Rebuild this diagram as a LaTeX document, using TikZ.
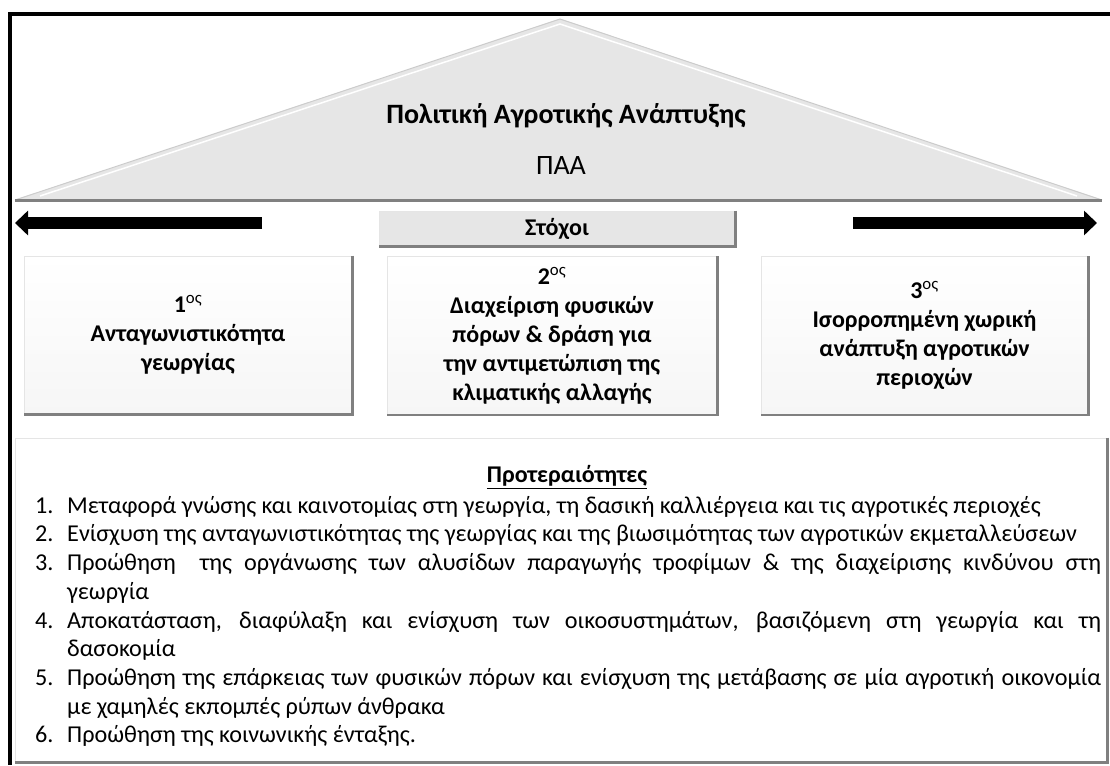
\documentclass[tikz,border=0pt]{standalone}
\usepackage{fontspec}
\setmainfont{Carlito}
\usetikzlibrary{arrows.meta}

\definecolor{roofgray}{HTML}{E6E6E6}
\definecolor{edgegray}{HTML}{808080}

\tikzset{
  bevel/.style={line width=2.5pt, color=edgegray},
  goalbox/.style={draw=gray!20, line width=0.8pt, top color=white,
    bottom color=gray!7, inner sep=0pt, align=center,
    minimum width=328pt, minimum height=158pt,
    font=\fontsize{24}{29}\selectfont\bfseries},
  bigarrow/.style={line width=12pt, -{Triangle[length=13pt,width=24pt]}},
}

\begin{document}
\begin{tikzpicture}[x=1pt,y=-1pt]
  \useasboundingbox (0,0) rectangle (1110,765);
  \newcommand{\ord}[1]{#1\textsuperscript{\mdseries ος}}

  % frame
  \draw[line width=4pt] (1110,14) -- (10,14) -- (10,765);

  % roof
  \coordinate (roofL) at (15,200);
  \coordinate (roofT) at (560,19);
  \coordinate (roofR) at (1102,200);
  \fill[roofgray] (roofL) -- (roofT) -- (roofR) -- cycle;
  \draw[gray!40, line width=1pt] (roofL) -- (roofT) -- (roofR);
  \draw[white, line width=1.5pt] (40,196) -- (560,24) -- (1077,196);
  \draw[edgegray, line width=3pt] (roofL) -- (roofR);
  \node[font=\fontsize{28}{34}\selectfont\bfseries] (title) at (566,116)
    {Πολιτική Αγροτικής Ανάπτυξης};
  \node[font=\fontsize{28}{34}\selectfont] (abbr) at (561,166) {ΠΑΑ};

  % arrows
  \coordinate (leftS) at (262,223);
  \coordinate (leftE) at (15,223);
  \coordinate (rightS) at (853,223);
  \coordinate (rightE) at (1097,223);
  \draw[bigarrow] (leftS) -- (leftE);
  \draw[bigarrow] (rightS) -- (rightE);

  % goals
  \node[draw=gray!20, line width=0.8pt, fill=roofgray, inner sep=0pt,
    minimum width=356pt, minimum height=35pt,
    font=\fontsize{24}{29}\selectfont\bfseries] (aims) at (557,228.5) {Στόχοι};

  \node[goalbox] (goal1) at (188,335)
    {\ord{1}\\Ανταγωνιστικότητα\\γεωργίας};
  \node[goalbox, minimum width=330pt] (goal2) at (552,335.5)
    {\ord{2}\\Διαχείριση φυσικών\\πόρων \& δράση για\\την αντιμετώπιση της\\κλιματικής αλλαγής};
  \node[goalbox, minimum width=327pt] (goal3) at (924.5,335.5)
    {\ord{3}\\Ισορροπημένη χωρική\\ανάπτυξη αγροτικών\\περιοχών};

  % priorities
  \node[draw=gray!20, line width=0.8pt, fill=white, inner sep=0pt,
    minimum width=1092pt, minimum height=324pt] (prbox) at (561,600) {};
  \node[font=\fontsize{24}{29}\selectfont\bfseries] (prio) at (567,477)
    {\underline{Προτεραιότητες}};
  \newcommand{\num}[1]{\makebox[32pt][l]{#1}}
  \newcommand{\full}[1]{\makebox[1034pt][s]{#1}}
  \node[anchor=north west, align=left, inner sep=0pt,
    font=\fontsize{24.2}{28.7}\selectfont] (plist) at (35,496)
    {\num{1.}Μεταφορά γνώσης και καινοτομίας στη γεωργία, τη δασική καλλιέργεια και τις αγροτικές περιοχές\\
     \num{2.}Ενίσχυση της ανταγωνιστικότητας της γεωργίας και της βιωσιμότητας των αγροτικών εκμεταλλεύσεων\\
     \num{3.}\full{Προώθηση \ της οργάνωσης των αλυσίδων παραγωγής τροφίμων \& της διαχείρισης κινδύνου στη}\\
     \num{}γεωργία\\
     \num{4.}\full{Αποκατάσταση, διαφύλαξη και ενίσχυση των οικοσυστημάτων, βασιζόμενη στη γεωργία και τη}\\
     \num{}δασοκομία\\
     \num{5.}\full{Προώθηση της επάρκειας των φυσικών πόρων και ενίσχυση της μετάβασης σε μία αγροτική οικονομία}\\
     \num{}με χαμηλές εκπομπές ρύπων άνθρακα\\
     \num{6.}Προώθηση της κοινωνικής ένταξης.};

  % shadows
  \foreach \n in {aims,goal1,goal2,goal3,prbox}
    \draw[bevel] (\n.north east) -- (\n.south east) -- (\n.south west);
\end{tikzpicture}
\end{document}
